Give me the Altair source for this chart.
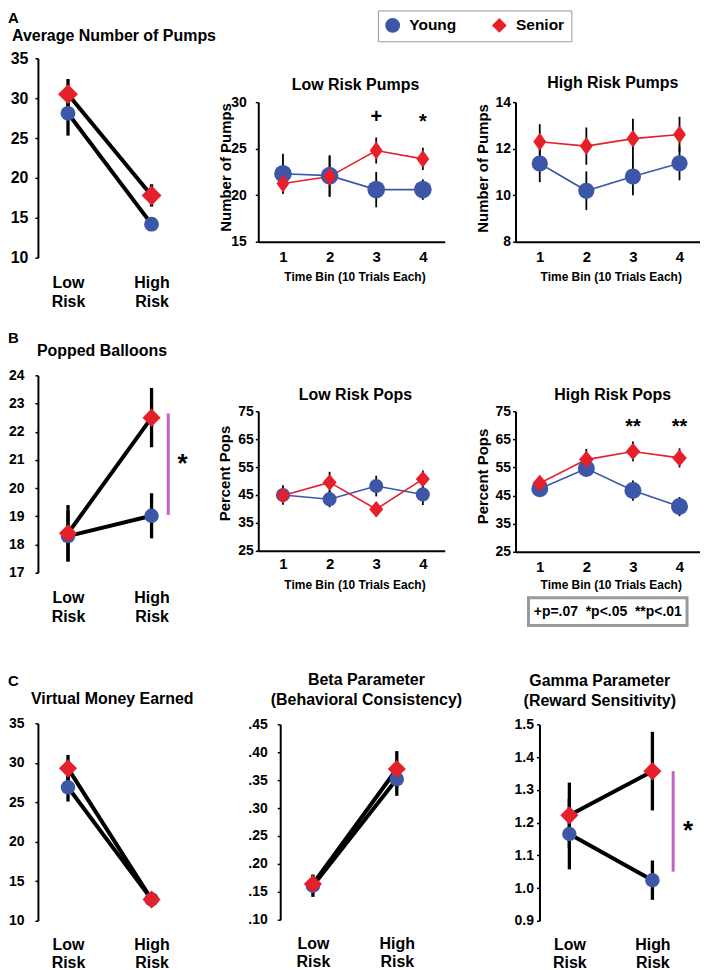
import altair as alt
import pandas as pd

FONT = "Liberation Sans"
BLUE = "#3C57A8"
RED = "#E5202A"
MAGENTA = "#C463C4"
BOX_GRAY = "#999999"
DIAMOND_A = "M0,-1L0.72,0L0,1L-0.72,0Z"
DIAMOND_B = "M0,-1L0.86,0L0,1L-0.86,0Z"
NO_VIEW = alt.ViewBackground(stroke=None, strokeWidth=0)
GAP = "\u00a0\u00a0"

# ---------------- data ----------------
groups = ["Young", "Senior"]
risk_levels = ["Low Risk", "High Risk"]
time_bins = [1, 2, 3, 4]
time_bin_title = "Time Bin (10 Trials Each)"
p_value_labels = ["+p=.07", "*p<.05", "**p<.01"]

# Row A
avg_pumps_young = [28.1, 14.2]
avg_pumps_young_se = [2.8, 0.6]
avg_pumps_senior = [30.5, 17.8]
avg_pumps_senior_se = [1.9, 1.4]
avg_pumps_ticks = [10, 15, 20, 25, 30, 35]

low_pumps_young = [22.3, 22.1, 20.6, 20.6]
low_pumps_young_se = [2.15, 2.2, 1.9, 1.1]
low_pumps_senior = [21.25, 22.0, 24.8, 23.9]
low_pumps_senior_se = [1.05, 2.2, 1.4, 1.2]
low_pumps_sig = ["", "", "+", "*"]
low_pumps_sig_level = 28.4
low_pumps_ticks = [15, 20, 25, 30]

high_pumps_young = [11.36, 10.19, 10.8, 11.37]
high_pumps_young_se = [0.8, 0.83, 0.8, 0.73]
high_pumps_senior = [12.3, 12.11, 12.43, 12.61]
high_pumps_senior_se = [0.75, 0.8, 0.86, 0.76]
high_pumps_ticks = [8, 10, 12, 14]

# Row B
popped_young = [18.3, 19.02]
popped_young_se = [0.9, 0.8]
popped_senior = [18.4, 22.5]
popped_senior_se = [1.0, 1.05]
popped_bracket = [19.05, 22.65]
popped_star_level = 21.1
popped_ticks = [17, 18, 19, 20, 21, 22, 23, 24]

low_pops_young = [45.0, 43.5, 48.2, 45.2]
low_pops_young_se = [3.5, 2.9, 3.7, 3.8]
low_pops_senior = [44.8, 49.5, 39.9, 50.7]
low_pops_senior_se = [3.0, 3.8, 2.6, 3.1]

high_pops_young = [47.4, 54.6, 46.8, 41.1]
high_pops_young_se = [2.0, 2.5, 3.6, 3.4]
high_pops_senior = [49.4, 57.8, 60.7, 58.4]
high_pops_senior_se = [2.0, 3.8, 3.5, 3.4]
high_pops_sig = ["", "", "**", "**"]
high_pops_sig_level = 71.2
pops_ticks = [25, 35, 45, 55, 65, 75]

# Row C
money_young = [26.9, 12.7]
money_young_se = [1.8, 0.5]
money_senior = [29.3, 12.7]
money_senior_se = [1.7, 0.5]
money_ticks = [10, 15, 20, 25, 30, 35]

beta_young = [0.161, 0.352]
beta_young_se = [0.02, 0.03]
beta_senior = [0.164, 0.370]
beta_senior_se = [0.015, 0.032]
beta_ticks = [0.10, 0.15, 0.20, 0.25, 0.30, 0.35, 0.40, 0.45]

gamma_young = [1.165, 1.024]
gamma_young_se = [0.108, 0.06]
gamma_senior = [1.222, 1.357]
gamma_senior_se = [0.10, 0.12]
gamma_bracket = [1.05, 1.357]
gamma_star_level = 1.195
gamma_ticks = [0.9, 1.0, 1.1, 1.2, 1.3, 1.4, 1.5]


# ---------------- helpers ----------------
def frame(young, young_se, senior, senior_se, xs, key):
    rows = []
    for g, vals, ses in ((groups[0], young, young_se), (groups[1], senior, senior_se)):
        for i, xv in enumerate(xs):
            rows.append({"group": g, key: xv, "value": vals[i],
                         "lo": vals[i] - ses[i], "hi": vals[i] + ses[i]})
    return pd.DataFrame(rows)


def y_axis(values, size, pad, fmt=None, expr=None, title=None, title_x=0, title_y=0):
    kw = dict(values=values, grid=False, domain=True, domainColor="black", domainWidth=2,
              ticks=True, tickSize=3, tickWidth=1.5, tickColor="black",
              labelFont=FONT, labelFontSize=size, labelFontWeight="bold", labelColor="black",
              labelPadding=pad, labelOverlap=False)
    if fmt:
        kw["format"] = fmt
    if expr:
        kw["labelExpr"] = expr
    if title:
        kw.update(title=title, titleFont=FONT, titleFontSize=15, titleFontWeight="bold",
                  titleColor="black", titleX=title_x, titleY=title_y, titleAngle=270,
                  titleAlign="center", titleBaseline="middle")
    else:
        kw["title"] = None
    return alt.Axis(**kw)


def make_title(text, anchor, dx, dy, baseline="alphabetic"):
    return alt.Title(text=text, anchor=anchor, frame="group", dx=dx, dy=dy, offset=0,
                     font=FONT, fontSize=16, fontWeight="bold", color="black",
                     baseline=baseline, lineHeight=20)


RISK_LABEL_EXPR = "split(datum.value < 0.5 ? '%s' : '%s', ' ')" % (risk_levels[0], risk_levels[1])


def risk_panel(young, young_se, senior, senior_se, ydom, yaxis, width, height, xdom, title,
               circle_size=210, diamond_size=330, bracket=None, star_level=None,
               bracket_x=1.2, star_x=1.37, label_pad=30, line_h=19):
    df = frame(young, young_se, senior, senior_se, list(range(len(risk_levels))), "pos")
    xs = alt.Scale(domain=xdom, nice=False, zero=False)
    ys = alt.Scale(domain=ydom, nice=False, zero=False)
    xaxis = alt.Axis(values=[0, 1], labelExpr=RISK_LABEL_EXPR, domain=False, ticks=False, tickSize=0,
                     grid=False, labelFont=FONT, labelFontSize=16, labelFontWeight="bold",
                     labelColor="black", labelPadding=label_pad, labelBaseline="alphabetic",
                     labelLineHeight=line_h, labelAlign="center", labelFlush=False,
                     labelOverlap=False, title=None)
    X = alt.X("pos:Q", scale=xs, axis=xaxis)
    Y = alt.Y("value:Q", scale=ys, axis=yaxis)
    base = alt.Chart(df)
    layers = [
        base.mark_rule(color="black", strokeWidth=3.3).encode(
            x=X, y=alt.Y("lo:Q", scale=ys, axis=yaxis), y2="hi:Q"),
        base.mark_line(color="black", strokeWidth=4).encode(x=X, y=Y, detail="group:N"),
        base.transform_filter(alt.datum.group == groups[0]).mark_point(
            shape="circle", filled=True, size=circle_size, color=BLUE, opacity=1, strokeWidth=0
        ).encode(x=X, y=Y),
        base.transform_filter(alt.datum.group == groups[1]).mark_point(
            shape="diamond", filled=True, size=diamond_size, color=RED, opacity=1, strokeWidth=0
        ).encode(x=X, y=Y),
    ]
    if bracket:
        bdf = pd.DataFrame({"pos": [bracket_x], "lo": [bracket[0]], "hi": [bracket[1]]})
        sdf = pd.DataFrame({"pos": [star_x], "value": [star_level], "label": ["*"]})
        layers.append(alt.Chart(bdf).mark_rule(color=MAGENTA, strokeWidth=3).encode(
            x=X, y=alt.Y("lo:Q", scale=ys, axis=yaxis), y2="hi:Q"))
        layers.append(alt.Chart(sdf).mark_text(font=FONT, fontSize=26, fontWeight="bold", color="black",
                                               baseline="middle", align="center", dy=7).encode(
            x=X, y=Y, text="label:N"))
    return alt.layer(*layers).properties(width=width, height=height, title=title, view=NO_VIEW)


def bin_panel(young, young_se, senior, senior_se, xdom, ydom, yaxis, width, height, title,
              circle_size, diamond_shape, diamond_size, sig=None, sig_level=None,
              label_pad=20, xtitle_y=39):
    df = frame(young, young_se, senior, senior_se, time_bins, "bin")
    xs = alt.Scale(domain=xdom, nice=False, zero=False)
    ys = alt.Scale(domain=ydom, nice=False, zero=False)
    xaxis = alt.Axis(values=time_bins, domain=True, domainColor="black", domainWidth=2, ticks=False,
                     tickSize=0, grid=False, labelFont=FONT, labelFontSize=15, labelFontWeight="bold",
                     labelColor="black", labelPadding=label_pad, labelBaseline="alphabetic",
                     labelFlush=False, title=time_bin_title, titleFont=FONT, titleFontSize=12,
                     titleFontWeight="bold", titleColor="black", titleX=width / 2 + 3,
                     titleY=xtitle_y, titleBaseline="alphabetic", titleAlign="center")
    X = alt.X("bin:Q", scale=xs, axis=xaxis)
    Y = alt.Y("value:Q", scale=ys, axis=yaxis)
    base = alt.Chart(df)
    young_b = base.transform_filter(alt.datum.group == groups[0])
    senior_b = base.transform_filter(alt.datum.group == groups[1])
    layers = [
        base.mark_rule(color="black", strokeWidth=1.8).encode(
            x=X, y=alt.Y("lo:Q", scale=ys, axis=yaxis), y2="hi:Q"),
        young_b.mark_line(color=BLUE, strokeWidth=1.6).encode(x=X, y=Y),
        senior_b.mark_line(color=RED, strokeWidth=1.6).encode(x=X, y=Y),
        young_b.mark_point(shape="circle", filled=True, size=circle_size, color=BLUE, opacity=1,
                           strokeWidth=0).encode(x=X, y=Y),
        senior_b.mark_point(shape=diamond_shape, filled=True, size=diamond_size, color=RED, opacity=1,
                            strokeWidth=0).encode(x=X, y=Y),
    ]
    if sig:
        sdf = pd.DataFrame({"bin": time_bins, "label": sig, "value": [sig_level] * len(time_bins)})
        sdf = sdf[sdf["label"] != ""]
        plus = sdf[sdf["label"] == "+"]
        star = sdf[sdf["label"] != "+"]
        if len(plus):
            layers.append(alt.Chart(plus).mark_text(font=FONT, fontSize=20, fontWeight="bold",
                                                    color="black", baseline="middle").encode(
                x=X, y=Y, text="label:N"))
        if len(star):
            layers.append(alt.Chart(star).mark_text(font=FONT, fontSize=20, fontWeight="bold",
                                                    color="black", baseline="middle", dy=5).encode(
                x=X, y=Y, text="label:N"))
    return alt.layer(*layers).properties(width=width, height=height, title=title, view=NO_VIEW)


def spacer(h=1, w=1):
    return alt.Chart(pd.DataFrame({"s": [0]})).mark_point(opacity=0, size=0).encode(
        x=alt.value(0), y=alt.value(h / 2)).properties(width=w, height=h, view=NO_VIEW)


def panel_letter(letter, h, y):
    return alt.Chart(pd.DataFrame({"letter": [letter]})).mark_text(
        font=FONT, fontSize=15, fontWeight="bold", color="black", align="center", baseline="middle"
    ).encode(text="letter:N", x=alt.value(-24.5), y=alt.value(y)).properties(
        width=150, height=h, view=NO_VIEW)


def column(*charts):
    return alt.vconcat(*charts, spacing=0, bounds="flush", center=True)


# ---------------- panels ----------------
A1 = risk_panel(avg_pumps_young, avg_pumps_young_se, avg_pumps_senior, avg_pumps_senior_se,
                [10, 35], y_axis(avg_pumps_ticks, 16, 7), 150, 200, [-0.36, 1.43],
                make_title("Average Number of Pumps", "start", -26, 7), diamond_size=400, circle_size=220)
B1 = risk_panel(popped_young, popped_young_se, popped_senior, popped_senior_se,
                [17, 24], y_axis(popped_ticks, 14, 11), 150, 198, [-0.36, 1.43],
                make_title("Popped Balloons", "start", -1, 4), bracket=popped_bracket,
                star_level=popped_star_level, bracket_x=1.2, star_x=1.37)
C1 = risk_panel(money_young, money_young_se, money_senior, money_senior_se,
                [10, 35], y_axis(money_ticks, 14, 11), 150, 198, [-0.36, 1.43],
                make_title("Virtual Money Earned", "start", -7, 4), label_pad=29, line_h=18)
C2 = risk_panel(beta_young, beta_young_se, beta_senior, beta_senior_se,
                [0.10, 0.45], y_axis(beta_ticks, 14, 10, expr="replace(format(datum.value, '.2f'), '0.', '.')"),
                143, 196, [-0.39, 1.31],
                make_title(["Beta Parameter", "(Behavioral Consistency)"], "middle", 15, 7, "bottom"),
                label_pad=29, line_h=18)
C3 = risk_panel(gamma_young, gamma_young_se, gamma_senior, gamma_senior_se,
                [0.9, 1.5], y_axis(gamma_ticks, 14, 3, fmt=".1f"), 137, 197, [-0.36, 1.285],
                make_title(["Gamma Parameter", "(Reward Sensitivity)"], "middle", -8, 8, "bottom"),
                bracket=gamma_bracket, star_level=gamma_star_level, bracket_x=1.25, star_x=1.43,
                label_pad=29, line_h=18)

A2 = bin_panel(low_pumps_young, low_pumps_young_se, low_pumps_senior, low_pumps_senior_se,
               [0.47, 4.47], [15, 30],
               y_axis(low_pumps_ticks, 14, 9, title="Number of Pumps", title_x=-33, title_y=65),
               187, 140, make_title("Low Risk Pumps", "middle", 4, 11),
               314, DIAMOND_A, 324, sig=low_pumps_sig, sig_level=low_pumps_sig_level)
A3 = bin_panel(high_pumps_young, high_pumps_young_se, high_pumps_senior, high_pumps_senior_se,
               [0.48, 4.44], [8, 14],
               y_axis(high_pumps_ticks, 14, 2, title="Number of Pumps", title_x=-33, title_y=66),
               185, 140, make_title("High Risk Pumps", "middle", 5, 9),
               265, DIAMOND_A, 324)
B2 = bin_panel(low_pops_young, low_pops_young_se, low_pops_senior, low_pops_senior_se,
               [0.47, 4.47], [25, 75],
               y_axis(pops_ticks, 14, 2, title="Percent Pops", title_x=-34, title_y=62),
               187, 140, make_title("Low Risk Pops", "middle", 4, 12),
               200, DIAMOND_B, 270, label_pad=18, xtitle_y=38)
B3 = bin_panel(high_pops_young, high_pops_young_se, high_pops_senior, high_pops_senior_se,
               [0.48, 4.44], [25, 75],
               y_axis(pops_ticks, 14, 2, title="Percent Pops", title_x=-33, title_y=65),
               185, 141, make_title("High Risk Pops", "middle", 5, 12),
               290, DIAMOND_B, 290, sig=high_pops_sig, sig_level=high_pops_sig_level,
               xtitle_y=37)

LEG = alt.Legend(title=None, orient="none", legendX=341, legendY=0, direction="horizontal",
                 padding=7, strokeColor=BOX_GRAY, fillColor="white", labelFont=FONT,
                 labelFontSize=15.5, labelFontWeight="bold", labelColor="black", labelOffset=9,
                 columnPadding=35, symbolSize=220, symbolOpacity=1, symbolStrokeWidth=0)
legend_host = alt.Chart(pd.DataFrame({"group": groups})).mark_point(filled=True, opacity=0, size=0).encode(
    x=alt.value(0), y=alt.value(46),
    color=alt.Color("group:N", scale=alt.Scale(domain=groups, range=[BLUE, RED]), legend=LEG),
    shape=alt.Shape("group:N", scale=alt.Scale(domain=groups, range=["circle", "diamond"]), legend=LEG),
).properties(width=1, height=92, view=NO_VIEW)

pbox = alt.Chart(pd.DataFrame({"t": [GAP.join(p_value_labels)]})).mark_text(
    font=FONT, fontSize=14, fontWeight="bold", color="black", baseline="middle", align="center"
).encode(text="t:N", x=alt.value(79.5), y=alt.value(14)).properties(
    width=159, height=28, view=alt.ViewBackground(stroke=BOX_GRAY, strokeWidth=3, fill="white"))

col1 = column(panel_letter("A", 48, 8), A1, panel_letter("B", 118, 81), B1,
              panel_letter("C", 151, 109), C1)
col2 = column(legend_host, A2, spacer(170), B2, spacer(174), C2)
col3 = column(spacer(92), A3, spacer(170), B3, spacer(46), pbox, spacer(99), C3)

# nested columns count as zero width in a flush layout, so gaps set the column origins
chart = alt.hconcat(col1, spacer(w=221), col2, spacer(w=258), col3,
                    spacing=0, bounds="flush").properties(
    padding=0
).configure_view(stroke=None, strokeWidth=0).configure_legend(strokeWidth=3).configure(font=FONT)

chart.save("out.html", embed_options={"renderer": "svg", "actions": False})
